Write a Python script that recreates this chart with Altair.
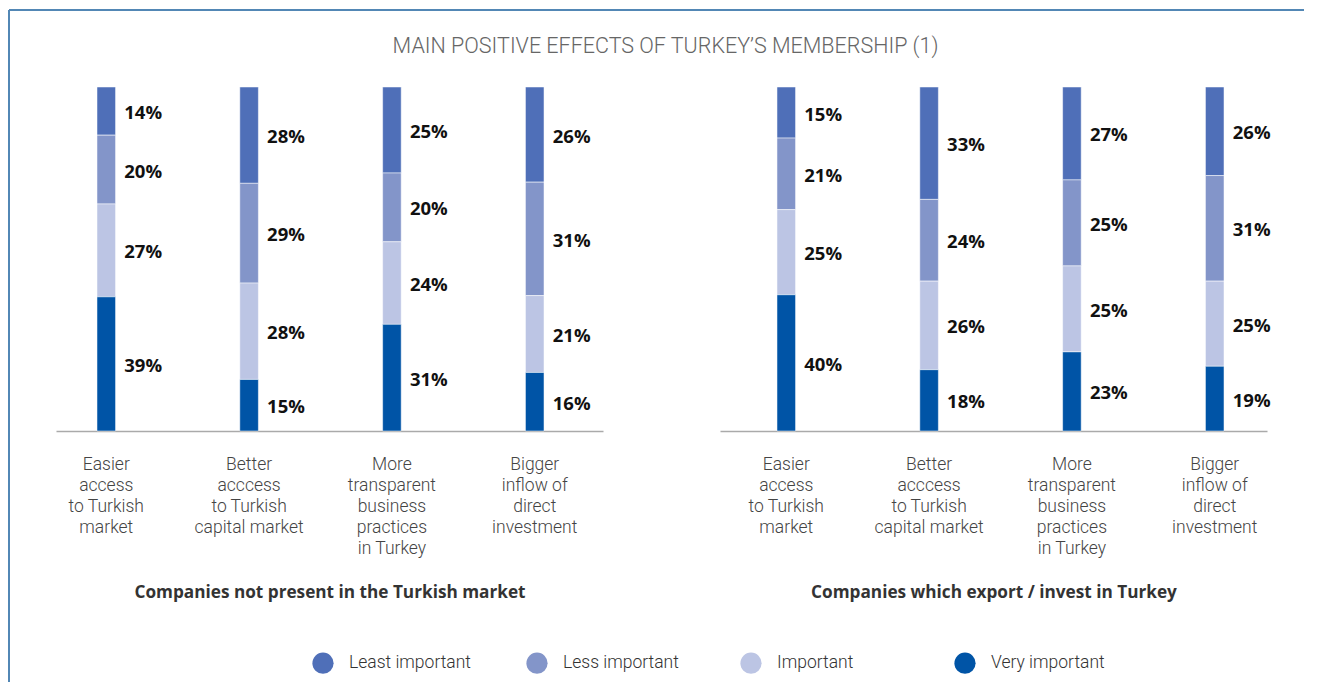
import altair as alt
import pandas as pd

title_text = "MAIN POSITIVE EFFECTS OF TURKEY\u2019S MEMBERSHIP (1)"
panels = ["Companies not present in the Turkish market",
          "Companies which export / invest in Turkey"]
categories = ["Easier|access|to Turkish|market",
              "Better|acccess|to Turkish|capital market",
              "More|transparent|business|practices|in Turkey",
              "Bigger|inflow of|direct|investment"]
levels = ["Least important", "Less important", "Important", "Very important"]
colors = ["#4f6fb8", "#8395c9", "#bcc5e4", "#0054a6"]

left_least = [14, 28, 25, 26]
left_less = [20, 29, 20, 31]
left_important = [27, 28, 24, 21]
left_very = [39, 15, 31, 16]

right_least = [15, 33, 27, 26]
right_less = [21, 24, 25, 31]
right_important = [25, 26, 25, 25]
right_very = [40, 18, 23, 19]

series = {
    panels[0]: [left_least, left_less, left_important, left_very],
    panels[1]: [right_least, right_less, right_important, right_very],
}
rows = []
for p in panels:
    for k, lev in enumerate(levels):
        for i, cat in enumerate(categories):
            rows.append({"panel": p, "category": cat, "level": lev,
                         "order": 3 - k, "value": series[p][k][i]})
df = pd.DataFrame(rows)
frame_df = pd.DataFrame({"f": [0]})

BORDER = "#5287b5"
yscale = alt.Scale(domain=[0, 1])
color_scale = alt.Scale(domain=levels, range=colors)
legend = alt.Legend(title=None, orient="none", legendX=256, legendY=565,
                    direction="horizontal", columns=4, gridAlign="all",
                    columnPadding=55, symbolType="circle", symbolSize=450,
                    symbolStrokeWidth=0, symbolOpacity=1, labelFont="Roboto",
                    labelFontWeight=300, labelFontSize=17.5, labelColor="#333333",
                    labelOffset=15)


def panel(idx, align, frame_layers):
    base = alt.Chart(df).transform_filter(
        alt.datum.panel == panels[idx]
    ).transform_stack(
        stack="value", groupby=["category"],
        sort=[alt.SortField("order", order="ascending")],
        as_=["y0", "y1"], offset="normalize"
    ).transform_calculate(
        mid="(datum.y0 + datum.y1) / 2",
        label="datum.value + '%'"
    )
    x = alt.X("category:N", sort=categories,
              scale=alt.Scale(paddingInner=0.87, paddingOuter=0.35, align=align),
              axis=alt.Axis(title=panels[idx], labelExpr="split(datum.label, '|')",
                            labelAngle=0, ticks=False, domainColor="#aaaaaa",
                            domainWidth=1.5, labelFont="Roboto", labelFontWeight=300,
                            labelFontSize=17.5, labelColor="#444444",
                            labelLineHeight=21, labelPadding=24,
                            titleFont="Open Sans", titleFontWeight="bold",
                            titleFontSize=17.2, titleColor="#333333",
                            titlePadding=27))
    bars = base.mark_bar(stroke="white", strokeWidth=0.5).encode(
        x=x,
        y=alt.Y("y0:Q", scale=yscale, axis=None),
        y2="y1:Q",
        color=alt.Color("level:N", scale=color_scale, legend=legend),
    )
    text = base.mark_text(align="left", baseline="middle", dx=18, dy=2,
                          font="Open Sans", fontWeight="bold", fontSize=18.5,
                          color="#111111").encode(
        x=alt.X("category:N", sort=categories),
        y=alt.Y("mid:Q", scale=yscale),
        text="label:N",
    )
    return alt.layer(bars, text, *frame_layers).properties(width=547, height=344)


fr = alt.Chart(frame_df)
left_frame = [
    fr.mark_rule(color=BORDER, strokeWidth=2).encode(
        x=alt.value(-47), y=alt.value(-77), y2=alt.value(595)),
    fr.mark_rule(color=BORDER, strokeWidth=2).encode(
        x=alt.value(-47), x2=alt.value(606), y=alt.value(-77)),
]
right_frame = [
    fr.mark_rule(color=BORDER, strokeWidth=2).encode(
        x=alt.value(-60), x2=alt.value(584), y=alt.value(-77)),
]

chart = alt.hconcat(
    panel(0, 0.41, left_frame),
    panel(1, 0.57, right_frame),
    spacing=-4,
).properties(
    title=alt.TitleParams(text=title_text, font="Roboto", fontWeight=300,
                          fontSize=21.5, color="#666666", anchor="middle",
                          offset=-48, dx=9),
    padding={"left": 0, "top": 1, "right": 0, "bottom": 0},
).configure_view(stroke=None)

chart.save("out.html", embed_options={"renderer": "svg", "actions": False})
